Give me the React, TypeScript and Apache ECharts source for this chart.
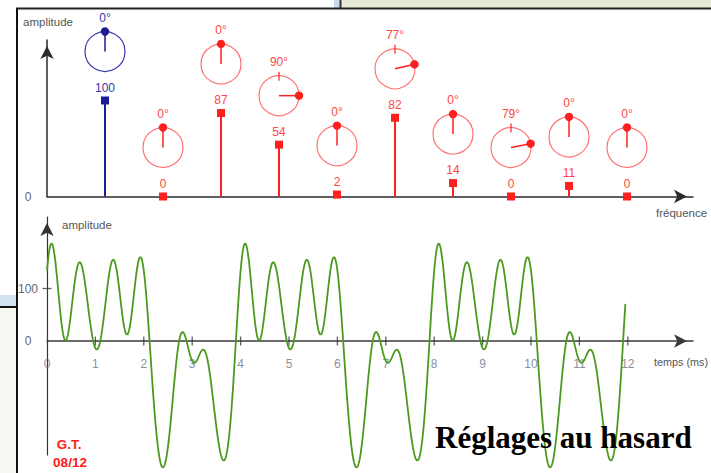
import React, { useEffect, useRef } from "react";
import * as echarts from "echarts";

// Spectrum (harmonics of a 4 ms period signal)
const harmonics = [1, 2, 3, 4, 5, 6, 7, 8, 9, 10];
const amplitudes = [100, 0, 87, 54, 2, 82, 14, 0, 11, 0];
const phasesDeg = [0, 0, 0, 90, 0, 77, 0, 79, 0, 0];
const periodMs = 4;

// Axis ticks / labels
const timeTicks = [0, 1, 2, 3, 4, 5, 6, 7, 8, 9, 10, 11, 12];
const ampTicks = [0, 100];
const spectrumYTicks = [0];
const tEndMs = 11.95;
const sampleStepMs = 0.01;

// time signal = sum of the harmonics shown in the spectrum
function signalAt(t: number): number {
  let s = 0;
  for (let i = 0; i < harmonics.length; i++) {
    s += amplitudes[i] * Math.sin((2 * Math.PI * harmonics[i] * t) / periodMs + (phasesDeg[i] * Math.PI) / 180);
  }
  return s;
}

export default function App() {
  const ref = useRef<HTMLDivElement>(null);
  useEffect(() => {
    if (!ref.current) return;
    const chart = echarts.init(ref.current, undefined, { renderer: "svg" });

    const curve: number[][] = [];
    const n = Math.round(tEndMs / sampleStepMs);
    for (let i = 0; i <= n; i++) {
      const t = i * sampleStepMs;
      curve.push([t, signalAt(t)]);
    }
    const specData = harmonics.map((k, i) => [k, amplitudes[i], phasesDeg[i]]);

    const axisColor = "#2a2a2a";
    const arrow = {
      symbol: ["none", "arrow"],
      symbolSize: [10, 13],
      symbolOffset: [0, -6],
    };
    const labelFont = "Liberation Sans";

    const option: any = {
      animation: false,
      backgroundColor: "#ffffff",
      grid: [
        { left: 47, top: 40, width: 646, height: 156.5, containLabel: false, outerBoundsMode: "none" },
        { left: 47, top: 217, width: 646, height: 238, containLabel: false, outerBoundsMode: "none" },
      ],
      xAxis: [
        {
          gridIndex: 0,
          type: "value",
          min: 0,
          max: 646 / 58,
          axisLine: { show: true, ...arrow, lineStyle: { color: axisColor, width: 1.5 } },
          axisTick: { show: false },
          axisLabel: { show: false },
          splitLine: { show: false },
        },
        {
          gridIndex: 1,
          type: "value",
          min: 0,
          max: 646 / 48.4,
          axisLine: { show: true, onZero: true, ...arrow, lineStyle: { color: "#3a3a3a", width: 1.5 } },
          axisTick: { show: false },
          axisLabel: { show: false },
          splitLine: { show: false },
        },
      ],
      yAxis: [
        {
          gridIndex: 0,
          type: "value",
          min: 0,
          max: 156.5 / 0.96,
          axisLine: { show: true, ...arrow, lineStyle: { color: axisColor, width: 1.5 } },
          axisTick: { show: false },
          axisLabel: {
            show: true,
            customValues: spectrumYTicks,
            formatter: (v: number) => (spectrumYTicks.includes(v) ? String(v) : ""),
            color: "#666",
            fontSize: 12,
            fontFamily: labelFont,
            align: "center",
            margin: 19,
          },
          splitLine: { show: false },
        },
        {
          gridIndex: 1,
          type: "value",
          min: -(455 - 341) / 0.525,
          max: (341 - 217) / 0.525,
          axisLine: { show: true, ...arrow, lineStyle: { color: "#333", width: 1.2 } },
          axisTick: { show: false },
          axisLabel: {
            show: true,
            customValues: ampTicks,
            formatter: (v: number) => (ampTicks.includes(v) ? String(v) : ""),
            color: "#666",
            fontSize: 12,
            fontFamily: labelFont,
            align: "center",
            margin: 19,
          },
          splitLine: { show: false },
        },
      ],
      series: [
        {
          type: "custom",
          xAxisIndex: 0,
          yAxisIndex: 0,
          clip: false,
          z: 5,
          encode: { x: 0, y: 1 },
          data: specData,
          renderItem: (params: any, api: any) => {
            const k = api.value(0);
            const a = api.value(1);
            const ph = api.value(2);
            const blue = params.dataIndex === 0;
            const p0 = api.coord([k, 0]);
            const p = api.coord([k, a]);
            const cx = p[0];
            const cy = p[1] - 49;
            const r = 20;
            const rad = (ph * Math.PI) / 180;
            const ex = cx + r * Math.sin(rad);
            const ey = cy - r * Math.cos(rad);
            const main = blue ? "#1c1c94" : "#ff1f1f";
            const ring = blue ? "#3a3ab0" : "#ff7272";
            const txt = blue ? "#3838a6" : "#ff4646";
            const children: any[] = [];
            if (a > 0) {
              children.push({
                type: "line",
                shape: { x1: p0[0], y1: p0[1], x2: p[0], y2: p[1] },
                style: { stroke: main, lineWidth: 2 },
              });
            }
            children.push({
              type: "rect",
              shape: { x: p[0] - 4, y: p[1] - 4, width: 8, height: 8 },
              style: { fill: main },
            });
            children.push({
              type: "text",
              x: p[0],
              y: p[1] - 13,
              style: { text: String(a), fill: txt, fontSize: 12, fontFamily: labelFont, align: "center", verticalAlign: "middle" },
            });
            children.push({
              type: "circle",
              shape: { cx, cy, r },
              style: { fill: "rgba(255,255,255,0)", stroke: ring, lineWidth: 1.2 },
            });
            if (ph !== 0) {
              children.push({
                type: "line",
                shape: { x1: cx, y1: cy - 24, x2: cx, y2: cy - 15 },
                style: { stroke: main, lineWidth: 1.2 },
              });
            }
            children.push({
              type: "line",
              shape: { x1: cx, y1: cy, x2: ex, y2: ey },
              style: { stroke: main, lineWidth: 1.5 },
            });
            children.push({
              type: "circle",
              shape: { cx: ex, cy: ey, r: 4.2 },
              style: { fill: main },
            });
            children.push({
              type: "text",
              x: cx,
              y: cy - 34,
              style: { text: ph + "°", fill: txt, fontSize: 12, fontFamily: labelFont, align: "center", verticalAlign: "middle" },
            });
            return { type: "group", children };
          },
        },
        {
          type: "scatter",
          xAxisIndex: 1,
          yAxisIndex: 1,
          symbol: "rect",
          symbolSize: [1.3, 9],
          itemStyle: { color: "#3a3a3a" },
          z: 2,
          silent: true,
          data: timeTicks.filter((t) => t > 0).map((t) => [t, 0]),
        },
        {
          type: "scatter",
          xAxisIndex: 1,
          yAxisIndex: 1,
          symbol: "rect",
          symbolSize: [1, 1],
          itemStyle: { color: "rgba(0,0,0,0)" },
          z: 3,
          silent: true,
          label: {
            show: true,
            position: "bottom",
            distance: 16,
            formatter: (p: any) => String(p.value[0]),
            color: "#687088",
            fontSize: 12,
            fontFamily: labelFont,
          },
          data: timeTicks.map((t) => [t, 0]),
        },
        {
          type: "scatter",
          xAxisIndex: 1,
          yAxisIndex: 1,
          symbol: "rect",
          symbolSize: [9, 1.3],
          itemStyle: { color: "#3a3a3a" },
          z: 2,
          silent: true,
          data: ampTicks.filter((v) => v > 0).map((v) => [0, v]),
        },
        {
          type: "line",
          xAxisIndex: 1,
          yAxisIndex: 1,
          data: curve,
          showSymbol: false,
          smooth: false,
          clip: false,
          z: 4,
          lineStyle: { color: "#4b9a1e", width: 1.8 },
        },
      ],
      graphic: [
        { type: "rect", z: -1, shape: { x: 0, y: 308, width: 16, height: 165 }, style: { fill: "#f7f7f2" } },
        { type: "rect", z: -1, shape: { x: 0, y: 295, width: 16, height: 11 }, style: { fill: "#d4e2f0" } },
        { type: "rect", shape: { x: 0, y: 306, width: 16, height: 2 }, style: { fill: "#111" } },
        { type: "rect", shape: { x: 334, y: 0, width: 6, height: 8 }, style: { fill: "#c8daec" } },
        { type: "rect", shape: { x: 340, y: 0, width: 371, height: 8 }, style: { fill: "#e7e9d7" } },
        { type: "rect", shape: { x: 339.5, y: 0, width: 2, height: 8 }, style: { fill: "#333" } },
        { type: "rect", shape: { x: 16, y: 7.5, width: 695, height: 2 }, style: { fill: "#222" } },
        { type: "rect", shape: { x: 16, y: 8, width: 2, height: 465 }, style: { fill: "#111" } },
        { type: "text", x: 48, y: 22, style: { text: "amplitude", fill: "#555", fontSize: 11.5, fontFamily: labelFont, align: "center", verticalAlign: "middle" } },
        { type: "text", x: 62, y: 225, style: { text: "amplitude", fill: "#555", fontSize: 11.5, fontFamily: labelFont, align: "left", verticalAlign: "middle" } },
        { type: "text", x: 656, y: 213, style: { text: "fréquence", fill: "#555", fontSize: 11.5, fontFamily: labelFont, align: "left", verticalAlign: "middle" } },
        { type: "text", x: 654, y: 362, style: { text: "temps (ms)", fill: "#555", fontSize: 10.8, fontFamily: labelFont, align: "left", verticalAlign: "middle" } },
        { type: "text", x: 69, y: 444, style: { text: "G.T.", fill: "#ff1a1a", fontSize: 13.5, fontWeight: "bold", fontFamily: labelFont, align: "center", verticalAlign: "middle" } },
        { type: "text", x: 70, y: 462, style: { text: "08/12", fill: "#ff1a1a", fontSize: 13.5, fontWeight: "bold", fontFamily: labelFont, align: "center", verticalAlign: "middle" } },
        { type: "text", z: 100, x: 435, y: 437, style: { text: "Réglages au hasard", fill: "#000", fontSize: 31, fontWeight: "bold", fontFamily: "Liberation Serif", align: "left", verticalAlign: "middle" } },
      ],
    };
    chart.setOption(option);
    return () => chart.dispose();
  }, []);

  return <div ref={ref} style={{ position: "fixed", left: 0, top: 0, width: 711, height: 473 }} />;
}
